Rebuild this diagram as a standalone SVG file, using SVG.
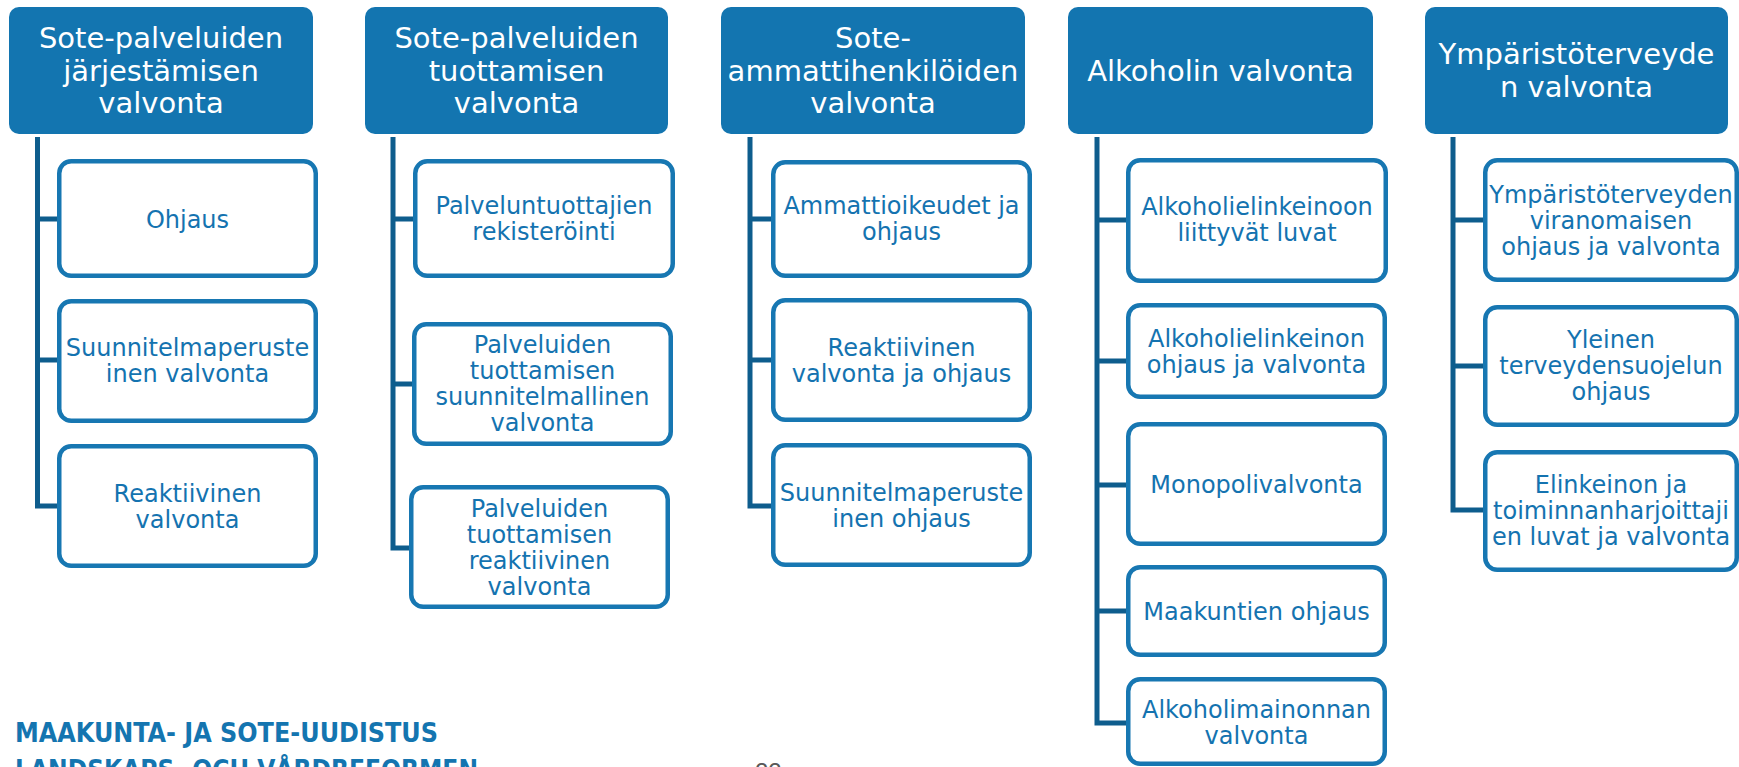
<svg xmlns="http://www.w3.org/2000/svg" width="1739" height="767" viewBox="0 0 1739 767">
<style>
.hd{fill:#1375B0;}
.hdt{fill:#FFFFFF;font-family:"DejaVu Sans","Verdana",sans-serif;font-size:29px;text-anchor:middle;}
.ch{fill:#FFFFFF;stroke:#1777B2;stroke-width:4.5;}
.cht{fill:#1473B0;font-family:"DejaVu Sans","Verdana",sans-serif;font-size:24px;text-anchor:middle;}
.cn{fill:none;stroke:#0E5D8D;stroke-width:5;stroke-linejoin:miter;stroke-linecap:butt;}
.ft{fill:#1475B0;font-family:"DejaVu Sans Condensed","Liberation Sans Narrow","Roboto",sans-serif;font-weight:bold;font-size:26px;}
.pg{fill:#595959;font-family:"Liberation Sans",Arial,sans-serif;font-size:24px;}
</style>
<rect width="1739" height="767" fill="#FFFFFF"/>

<g id="connectors">
  <path class="cn" d="M37.5 137 V506 H58 M37.5 219 H58 M37.5 360 H58"/>
  <path class="cn" d="M393 137 V548 H410 M393 219 H414 M393 384 H413"/>
  <path class="cn" d="M750 137 V506 H772 M750 219 H772 M750 360 H772"/>
  <path class="cn" d="M1097 137 V723 H1127 M1097 220 H1127 M1097 361 H1127 M1097 485 H1127 M1097 611 H1127"/>
  <path class="cn" d="M1453 137 V510 H1484 M1453 220 H1484 M1453 366 H1484"/>
</g>

<!-- Column 1 -->
<g id="h1"><rect class="hd" x="9" y="7" width="304" height="127" rx="10"/>
<text class="hdt" x="161" y="48">Sote-palveluiden</text><text class="hdt" x="161" y="81">järjestämisen</text><text class="hdt" x="161" y="113">valvonta</text></g>
<g id="c1a"><rect class="ch" x="59.25" y="161.25" width="256.5" height="114.5" rx="12"/>
<text class="cht" x="187.5" y="228">Ohjaus</text></g>
<g id="c1b"><rect class="ch" x="59.25" y="301.25" width="256.5" height="119.5" rx="12"/>
<text class="cht" x="187.5" y="356">Suunnitelmaperuste</text><text class="cht" x="187.5" y="382">inen valvonta</text></g>
<g id="c1c"><rect class="ch" x="59.25" y="446.25" width="256.5" height="119.5" rx="12"/>
<text class="cht" x="187.5" y="501.5">Reaktiivinen</text><text class="cht" x="187.5" y="527.5">valvonta</text></g>

<!-- Column 2 -->
<g id="h2"><rect class="hd" x="365" y="7" width="303" height="127" rx="10"/>
<text class="hdt" x="516.5" y="48">Sote-palveluiden</text><text class="hdt" x="516.5" y="81">tuottamisen</text><text class="hdt" x="516.5" y="113">valvonta</text></g>
<g id="c2a"><rect class="ch" x="415.25" y="161.25" width="257.5" height="114.5" rx="12"/>
<text class="cht" x="544" y="213.5">Palveluntuottajien</text><text class="cht" x="544" y="239.5">rekisteröinti</text></g>
<g id="c2b"><rect class="ch" x="414.25" y="324.25" width="256.5" height="119.5" rx="12"/>
<text class="cht" x="542.5" y="352.5">Palveluiden</text><text class="cht" x="542.5" y="378.5">tuottamisen</text><text class="cht" x="542.5" y="404.5">suunnitelmallinen</text><text class="cht" x="542.5" y="430.5">valvonta</text></g>
<g id="c2c"><rect class="ch" x="411.25" y="487.25" width="256.5" height="119.5" rx="12"/>
<text class="cht" x="539.5" y="516.5">Palveluiden</text><text class="cht" x="539.5" y="542.5">tuottamisen</text><text class="cht" x="539.5" y="568.5">reaktiivinen</text><text class="cht" x="539.5" y="594.5">valvonta</text></g>

<!-- Column 3 -->
<g id="h3"><rect class="hd" x="721" y="7" width="304" height="127" rx="10"/>
<text class="hdt" x="873" y="48">Sote-</text><text class="hdt" x="873" y="81">ammattihenkilöiden</text><text class="hdt" x="873" y="113">valvonta</text></g>
<g id="c3a"><rect class="ch" x="773.25" y="162.25" width="256.5" height="113.5" rx="12"/>
<text class="cht" x="901.5" y="213.5">Ammattioikeudet ja</text><text class="cht" x="901.5" y="239.5">ohjaus</text></g>
<g id="c3b"><rect class="ch" x="773.25" y="300.25" width="256.5" height="119.5" rx="12"/>
<text class="cht" x="901.5" y="355.5">Reaktiivinen</text><text class="cht" x="901.5" y="381.5">valvonta ja ohjaus</text></g>
<g id="c3c"><rect class="ch" x="773.25" y="445.25" width="256.5" height="119.5" rx="12"/>
<text class="cht" x="901.5" y="500.5">Suunnitelmaperuste</text><text class="cht" x="901.5" y="526.5">inen ohjaus</text></g>

<!-- Column 4 -->
<g id="h4"><rect class="hd" x="1068" y="7" width="305" height="127" rx="10"/>
<text class="hdt" x="1220.5" y="81">Alkoholin valvonta</text></g>
<g id="c4a"><rect class="ch" x="1128.25" y="160.25" width="257.5" height="120.5" rx="12"/>
<text class="cht" x="1257" y="215">Alkoholielinkeinoon</text><text class="cht" x="1257" y="241">liittyvät luvat</text></g>
<g id="c4b"><rect class="ch" x="1128.25" y="305.25" width="256.5" height="91.5" rx="12"/>
<text class="cht" x="1256.5" y="347">Alkoholielinkeinon</text><text class="cht" x="1256.5" y="373">ohjaus ja valvonta</text></g>
<g id="c4c"><rect class="ch" x="1128.25" y="424.25" width="256.5" height="119.5" rx="12"/>
<text class="cht" x="1256.5" y="493">Monopolivalvonta</text></g>
<g id="c4d"><rect class="ch" x="1128.25" y="567.25" width="256.5" height="87.5" rx="12"/>
<text class="cht" x="1256.5" y="620">Maakuntien ohjaus</text></g>
<g id="c4e"><rect class="ch" x="1128.25" y="679.25" width="256.5" height="84.5" rx="12"/>
<text class="cht" x="1256.5" y="718">Alkoholimainonnan</text><text class="cht" x="1256.5" y="744">valvonta</text></g>

<!-- Column 5 -->
<g id="h5"><rect class="hd" x="1425" y="7" width="303" height="127" rx="10"/>
<text class="hdt" x="1576.5" y="64">Ympäristöterveyde</text><text class="hdt" x="1576.5" y="97">n valvonta</text></g>
<g id="c5a"><rect class="ch" x="1485.25" y="160.25" width="251.5" height="119.5" rx="12"/>
<text class="cht" x="1611" y="203">Ympäristöterveyden</text><text class="cht" x="1611" y="229">viranomaisen</text><text class="cht" x="1611" y="255">ohjaus ja valvonta</text></g>
<g id="c5b"><rect class="ch" x="1485.25" y="307.25" width="251.5" height="117.5" rx="12"/>
<text class="cht" x="1611" y="348">Yleinen</text><text class="cht" x="1611" y="374">terveydensuojelun</text><text class="cht" x="1611" y="400">ohjaus</text></g>
<g id="c5c"><rect class="ch" x="1485.25" y="452.25" width="251.5" height="117.5" rx="12"/>
<text class="cht" x="1611" y="493">Elinkeinon ja</text><text class="cht" x="1611" y="519">toiminnanharjoittaji</text><text class="cht" x="1611" y="545">en luvat ja valvonta</text></g>

<!-- Footer -->
<text class="ft" x="15" y="742" textLength="423" lengthAdjust="spacingAndGlyphs">MAAKUNTA- JA SOTE-UUDISTUS</text>
<text class="ft" x="15" y="779" textLength="463" lengthAdjust="spacingAndGlyphs">LANDSKAPS- OCH VÅRDREFORMEN</text>
<text class="pg" x="755" y="780">22</text>
</svg>
